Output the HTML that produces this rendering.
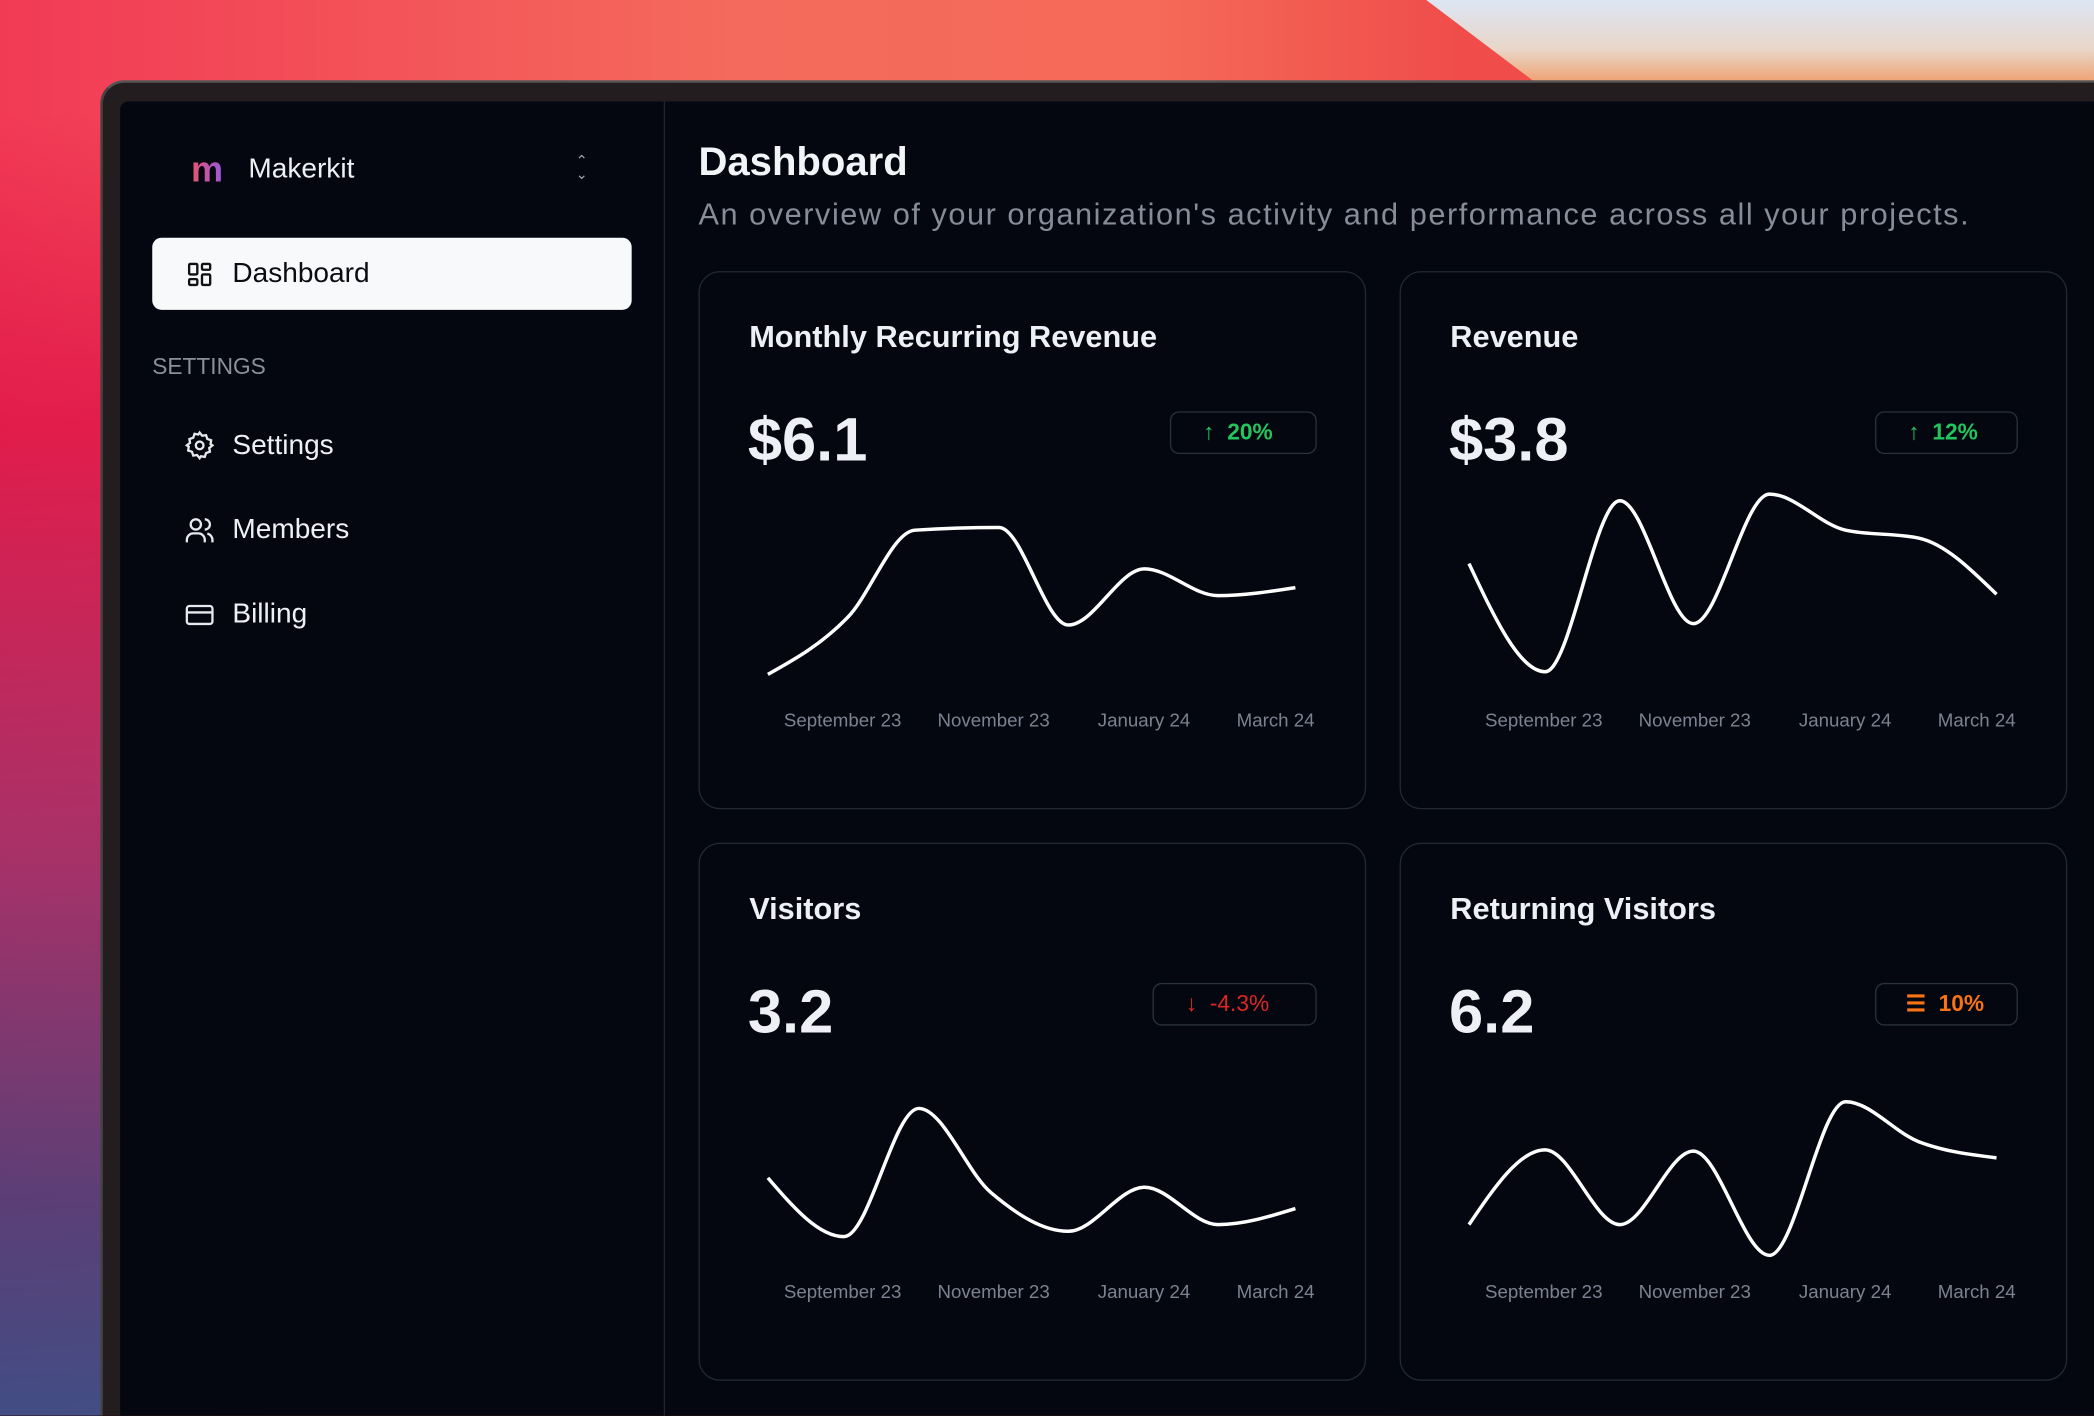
<!DOCTYPE html>
<html><head><meta charset="utf-8">
<style>
html,body{margin:0;padding:0;width:2094px;height:1416px;overflow:hidden;background:#000}
#s{position:absolute;left:0;top:0;width:1568px;height:1060px;transform:scale(1.335459);transform-origin:0 0;overflow:hidden;font-family:"Liberation Sans",sans-serif;
background:linear-gradient(90deg,#f23a55 0%,#f46a5c 35%,#f56a58 55%,#ef4c4a 70%,#f04848 100%);}
#bg2{position:absolute;left:0;top:0;width:200px;height:1060px;background:linear-gradient(180deg,rgba(0,0,0,0) 8%,#e0194a 30%,#a0306a 60%,#4a3f7a 85%,#2f4f8a 100%);opacity:.9}
#bez{position:absolute;left:75px;top:60px;width:1493px;height:1000px;background:#231d1f;border-radius:18px 0 0 0;border-top:2px solid #555;border-left:2px solid #444;box-sizing:border-box}
#scr{position:absolute;left:90px;top:76px;width:1478px;height:984px;background:#04070f;border-radius:6px 0 0 0}
#side{position:absolute;left:90px;top:76px;width:407px;height:984px;border-right:1px solid #1e2430}
.t{position:absolute;white-space:nowrap}
.card{position:absolute;width:500px;height:403px;border:1px solid #222834;border-radius:16px;box-sizing:border-box}
.ct{font-size:23px;font-weight:bold;color:#eef0f5;left:37px;top:35px}
.cv{font-size:46px;font-weight:bold;color:#eef0f5;left:36px;top:98px}
.badge{position:absolute;top:104px;height:32px;border:1px solid #2a303c;border-radius:7px;box-sizing:border-box;font-size:17px;font-weight:bold;line-height:30px}
.ax{position:absolute;top:327px;font-size:14px;color:#7c8290}
.nav{font-size:21px;color:#eef0f5}
</style></head><body>
<div id="s">
<div id="bg2"></div>
<svg style="position:absolute;left:0;top:0" width="1568" height="70">
<defs><linearGradient id="lg" x1="0" y1="0" x2="0" y2="1"><stop offset="0" stop-color="#dde6f4"/><stop offset="0.6" stop-color="#e8d6c8"/><stop offset="1" stop-color="#f0a070"/></linearGradient></defs>
<path d="M1068,0 Q1105,28 1150,62 L1568,62 L1568,0 Z" fill="url(#lg)"/></svg>
<div id="bez"></div>
<div id="scr"></div>
<div id="side"></div>
<div class="t" style="left:143px;top:112px;font-size:27px;font-weight:bold;background:linear-gradient(90deg,#e6556a,#9a58e0);-webkit-background-clip:text;color:transparent">m</div>
<div class="t" style="left:186px;top:115px;font-size:21px;color:#eef0f5">Makerkit</div>
<div class="t" style="left:431px;top:116px;font-size:11px;color:#9aa0ac;line-height:10px">⌃<br>⌄</div>
<div style="position:absolute;left:114px;top:178px;width:359px;height:54px;background:#f8f9fb;border-radius:7px"></div>
<svg style="position:absolute;left:139px;top:195px" width="21" height="21" viewBox="0 0 24 24" fill="none" stroke="#111" stroke-width="2"><rect x="3" y="3" width="7" height="9" rx="1"/><rect x="14" y="3" width="7" height="5" rx="1"/><rect x="14" y="12" width="7" height="9" rx="1"/><rect x="3" y="16" width="7" height="5" rx="1"/></svg>
<div class="t" style="left:174px;top:193px;font-size:21px;color:#0a0c12">Dashboard</div>
<div class="t" style="left:114px;top:265px;font-size:17px;color:#8a909c">SETTINGS</div>
<svg style="position:absolute;left:138px;top:322px" width="23" height="23" viewBox="0 0 24 24" fill="none" stroke="#e6e8ee" stroke-width="1.8"><circle cx="12" cy="12" r="3"/><path d="M12 2l2 2.5 3-.5 1 3 3 1-.5 3L22 12l-2.5 2 .5 3-3 1-1 3-3-.5L12 22l-2-2.5-3 .5-1-3-3-1 .5-3L2 12l2.5-2-.5-3 3-1 1-3 3 .5z"/></svg>
<div class="t nav" style="left:174px;top:322px">Settings</div>
<svg style="position:absolute;left:138px;top:386px" width="23" height="23" viewBox="0 0 24 24" fill="none" stroke="#e6e8ee" stroke-width="1.8"><circle cx="9" cy="7" r="4"/><path d="M2 21v-2a5 5 0 015-5h4a5 5 0 015 5v2M16 3a4 4 0 010 8M22 21v-2a5 5 0 00-4-4.8"/></svg>
<div class="t nav" style="left:174px;top:385px">Members</div>
<svg style="position:absolute;left:138px;top:449px" width="23" height="23" viewBox="0 0 24 24" fill="none" stroke="#e6e8ee" stroke-width="1.8"><rect x="2" y="5" width="20" height="14" rx="2"/><path d="M2 10h20"/></svg>
<div class="t nav" style="left:174px;top:448px">Billing</div>

<div class="t" style="left:523px;top:105px;font-size:30px;font-weight:bold;color:#f2f4f8">Dashboard</div>
<div class="t" style="left:523px;top:147px;font-size:23px;letter-spacing:1.15px;color:#868c98">An overview of your organization's activity and performance across all your projects.</div>

<div class="card" style="left:523px;top:203px">
<div class="t ct">Monthly Recurring Revenue</div><div class="t cv">$6.1</div>
<div class="badge" style="left:352px;width:110px;color:#22c55e"><span style="margin-left:24px">↑&nbsp; 20%</span></div>
<div class="ax" style="left:63px">September 23</div><div class="ax" style="left:178px">November 23</div><div class="ax" style="left:298px">January 24</div><div class="ax" style="left:402px">March 24</div></div>
<div class="card" style="left:1048px;top:203px">
<div class="t ct">Revenue</div><div class="t cv">$3.8</div>
<div class="badge" style="left:355px;width:107px;color:#22c55e"><span style="margin-left:24px">↑&nbsp; 12%</span></div>
<div class="ax" style="left:63px">September 23</div><div class="ax" style="left:178px">November 23</div><div class="ax" style="left:298px">January 24</div><div class="ax" style="left:402px">March 24</div></div>
<div class="card" style="left:523px;top:631px">
<div class="t ct">Visitors</div><div class="t cv">3.2</div>
<div class="badge" style="left:339px;width:123px;color:#dc2626;font-weight:normal"><span style="margin-left:24px">↓&nbsp; -4.3%</span></div>
<div class="ax" style="left:63px">September 23</div><div class="ax" style="left:178px">November 23</div><div class="ax" style="left:298px">January 24</div><div class="ax" style="left:402px">March 24</div></div>
<div class="card" style="left:1048px;top:631px">
<div class="t ct">Returning Visitors</div><div class="t cv">6.2</div>
<div class="badge" style="left:355px;width:107px;color:#f97316"><span style="margin-left:22px">☰&nbsp; 10%</span></div>
<div class="ax" style="left:63px">September 23</div><div class="ax" style="left:178px">November 23</div><div class="ax" style="left:298px">January 24</div><div class="ax" style="left:402px">March 24</div></div>

<svg style="position:absolute;left:0;top:0" width="1568" height="1060" fill="none" stroke="#fff" stroke-width="2.6">
<path id="p1"/><path id="p2"/><path id="p3"/><path id="p4"/></svg>
</div>
<script>
function mono(P){var n=P.length,t=[];function sg(v){return v<0?-1:v>0?1:0}
for(var i=1;i<n-1;i++){var h0=P[i][0]-P[i-1][0],h1=P[i+1][0]-P[i][0],s0=(P[i][1]-P[i-1][1])/h0,s1=(P[i+1][1]-P[i][1])/h1,p=(s0*h1+s1*h0)/(h0+h1);t[i]=(sg(s0)+sg(s1))*Math.min(Math.abs(s0),Math.abs(s1),0.5*Math.abs(p))||0;}
var h=P[1][0]-P[0][0];t[0]=(3*(P[1][1]-P[0][1])/h-t[1])/2;h=P[n-1][0]-P[n-2][0];t[n-1]=(3*(P[n-1][1]-P[n-2][1])/h-t[n-2])/2;
var d="M"+P[0][0]+","+P[0][1];for(i=0;i<n-1;i++){var dx=(P[i+1][0]-P[i][0])/3;d+="C"+(P[i][0]+dx)+","+(P[i][1]+dx*t[i])+","+(P[i+1][0]-dx)+","+(P[i+1][1]-dx*t[i+1])+","+P[i+1][0]+","+P[i+1][1];}return d;}
var D={p1:[[575,505],[635,462],[685,397],[748,395],[800,468],[857,426],[912,446],[970,440]],
p2:[[1100,422],[1157,503],[1213,375],[1268,467],[1325,370],[1382,397],[1437,403],[1495,445]],
p3:[[575,882],[632,926],[688,830],[742,893],[800,922],[857,889],[912,917],[970,905]],
p4:[[1100,917],[1157,861],[1213,917],[1268,862],[1325,940],[1382,825],[1437,855],[1495,867]]};
for(var k in D)document.getElementById(k).setAttribute("d",mono(D[k]));
</script>
</body></html>
